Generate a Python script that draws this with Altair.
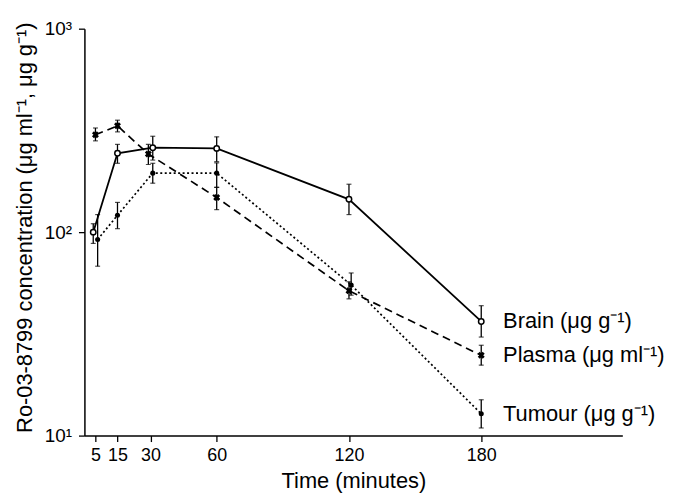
import altair as alt
import pandas as pd

FONT = "Liberation Sans"

# ---- data ----
brain_t = [4, 15, 31, 60, 120, 180]
brain_v = [100, 244, 260, 258, 145, 36.4]
brain_lo = [88, 218, 226, 222, 122, 30.5]
brain_hi = [110, 270, 296, 294, 172, 43.5]

plasma_t = [5, 15, 29, 60, 120, 180]
plasma_v = [301, 333, 242, 148, 51.5, 24.8]
plasma_lo = [281, 311, 215, 129, 47, 22.2]
plasma_hi = [325, 355, 270, 166, 57, 27.8]

tumour_t = [6, 15, 31, 60, 121, 180]
tumour_v = [92, 121, 195, 195, 55, 12.8]
tumour_lo = [68, 104, 174, 166, 49, 10.9]
tumour_hi = [122, 140, 218, 219, 63, 15.0]

series_names = ["Brain", "Plasma", "Tumour"]
series_labels = ["Brain (μg g⁻¹)", "Plasma (μg ml⁻¹)", "Tumour (μg g⁻¹)"]

x_ticks = [5, 15, 30, 60, 120, 180]
y_ticks = [10, 100, 1000]

# ---- tables ----
rows = []
for name, ts, vs, los, his in [
    ("Brain", brain_t, brain_v, brain_lo, brain_hi),
    ("Plasma", plasma_t, plasma_v, plasma_lo, plasma_hi),
    ("Tumour", tumour_t, tumour_v, tumour_lo, tumour_hi),
]:
    for t, v, lo, hi in zip(ts, vs, los, his):
        rows.append({"series": name, "t": t, "v": v, "lo": lo, "hi": hi})
df = pd.DataFrame(rows)

lab = pd.DataFrame({
    "series": series_names,
    "label": series_labels,
    "t": [brain_t[-1], plasma_t[-1], tumour_t[-1]],
    "v": [brain_v[-1], plasma_v[-1], tumour_v[-1]],
})

xscale = alt.Scale(domain=[0, 244], nice=False, zero=False)
yscale = alt.Scale(type="log", domain=[10, 1000], nice=False)

xaxis = alt.Axis(
    values=x_ticks, title="Time (minutes)", tickSize=6, labelPadding=5,
    labelFontSize=18, titleFontSize=22, titleFontWeight="normal",
    titleX=271, titleY=52, titleBaseline="alphabetic", labelFlush=False,
)
yaxis = alt.Axis(
    values=y_ticks,
    labelExpr="datum.value == 10 ? '10¹' : datum.value == 100 ? '10²' : '10³'",
    title="Ro-03-8799 concentration (μg ml⁻¹, μg g⁻¹)",
    tickSize=6, labelPadding=7, labelFontSize=19, titleFontSize=22,
    titleFontWeight="normal", titleX=-60, titleY=200, titleAngle=-90,
    titleAlign="center", titleBaseline="middle",
)

base = alt.Chart(df)
X = alt.X("t:Q", scale=xscale, axis=xaxis)
Y = alt.Y("v:Q", scale=yscale, axis=yaxis)

line_brain = base.transform_filter("datum.series == 'Brain'").mark_line(
    color="black", strokeWidth=1.8).encode(x=X, y=Y)
line_plasma = base.transform_filter("datum.series == 'Plasma'").mark_line(
    color="black", strokeWidth=1.7, strokeDash=[8, 5]).encode(x=X, y=Y)
line_tumour = base.transform_filter("datum.series == 'Tumour'").mark_line(
    color="black", strokeWidth=1.7, strokeDash=[2, 2.5]).encode(x=X, y=Y)

err = base.mark_rule(color="black", strokeWidth=1.3).encode(
    x=X, y=alt.Y("lo:Q", scale=yscale), y2="hi:Q")
cap_lo = base.mark_tick(orient="horizontal", size=5, thickness=1.2, color="black").encode(
    x=X, y=alt.Y("lo:Q", scale=yscale))
cap_hi = base.mark_tick(orient="horizontal", size=5, thickness=1.2, color="black").encode(
    x=X, y=alt.Y("hi:Q", scale=yscale))

pt_brain = base.transform_filter("datum.series == 'Brain'").mark_point(
    shape="circle", filled=True, fill="white", stroke="black", strokeWidth=1.5,
    size=30, opacity=1).encode(x=X, y=Y)
pt_plasma = base.transform_filter("datum.series == 'Plasma'").mark_point(
    shape="cross", angle=45, filled=True, color="black", size=50, opacity=1).encode(x=X, y=Y)
pt_tumour = base.transform_filter("datum.series == 'Tumour'").mark_circle(
    color="black", size=26, opacity=1).encode(x=X, y=Y)

labels = alt.Chart(lab).mark_text(
    align="left", baseline="middle", dx=22, fontSize=22, font=FONT, color="black"
).encode(x=X, y=Y, text="label:N")

chart = alt.layer(
    line_brain, line_plasma, line_tumour, err, cap_lo, cap_hi,
    pt_brain, pt_plasma, pt_tumour, labels,
).properties(
    width=542, height=410,
    padding={"left": 77, "top": 19, "right": 44, "bottom": 56},
    autosize=alt.AutoSizeParams(type="none"),
    background="white",
).configure_view(stroke=None).configure_axis(
    grid=False, domainColor="black", tickColor="black", labelColor="black",
    titleColor="black", labelFont=FONT, titleFont=FONT, domainWidth=1.5,
    tickWidth=1.3,
)

chart.save("out.html", embed_options={"renderer": "svg", "actions": False})
